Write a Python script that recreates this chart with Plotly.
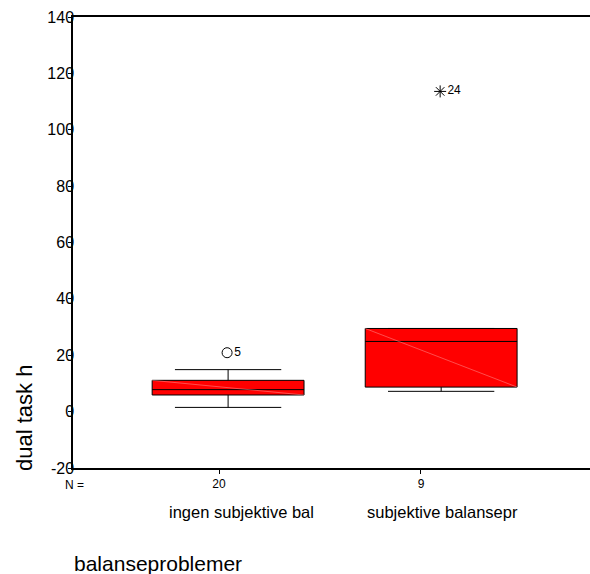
import plotly.graph_objects as go

# ---- data ----
categories = ["ingen subjektive bal", "subjektive balansepr"]
n_counts = ["20", "9"]
q1 = [5.9, 8.7]
median = [7.8, 24.9]
q3 = [11.1, 29.5]
lower_whisker = [1.5, 7.2]
upper_whisker = [14.9, 29.5]
outlier_values = [20.9, 113.6]
outlier_labels = ["5", "24"]
outlier_kind = ["circle", "extreme"]
y_ticks = [-20, 0, 20, 40, 60, 80, 100, 120, 140]
y_tick_text = ["-20", "0", "20", "40", "60", "80", "100", "120", "140"]

FONT = "Arial, Liberation Sans, sans-serif"
tick_pos = [1, 2]
box_pos = [1.045, 2.10]
box_w = 0.752

fig = go.Figure()

for i, cat in enumerate(categories):
    fig.add_trace(go.Box(
        x=[box_pos[i]], q1=[q1[i]], median=[median[i]], q3=[q3[i]],
        lowerfence=[lower_whisker[i]], upperfence=[upper_whisker[i]],
        width=box_w, whiskerwidth=0.7, boxpoints=False,
        fillcolor="#ff0000", line=dict(color="black", width=1),
        name=cat, showlegend=False, hoverinfo="skip",
    ))
    # faint diagonal rendering artefact inside the box
    fig.add_trace(go.Scatter(
        x=[box_pos[i] - box_w / 2, box_pos[i] + box_w / 2],
        y=[q3[i], q1[i]], mode="lines",
        line=dict(color="rgba(255,160,160,0.8)", width=0.6),
        showlegend=False, hoverinfo="skip",
    ))

for i, v in enumerate(outlier_values):
    sym = "circle-open" if outlier_kind[i] == "circle" else "asterisk-open"
    fig.add_trace(go.Scatter(
        x=[box_pos[i] - 0.005], y=[v], mode="markers+text",
        marker=dict(symbol=sym, size=10,
                    color="black", line=dict(color="black", width=1)),
        text=[outlier_labels[i]], textposition="middle right",
        textfont=dict(family=FONT, size=12, color="black"),
        showlegend=False, hoverinfo="skip",
    ))

fig.update_xaxes(
    range=[0.277, 2.837], tickvals=tick_pos, ticktext=n_counts,
    tickfont=dict(family=FONT, size=12, color="black"),
    ticks="outside", ticklen=4, tickcolor="black",
    showline=True, linecolor="black", linewidth=1.5, mirror=True,
    showgrid=False, zeroline=False,
)
fig.update_yaxes(
    range=[-20, 140], tickvals=y_ticks, ticktext=y_tick_text,
    tickfont=dict(family=FONT, size=16, color="black"),
    ticks="outside", ticklen=3, tickcolor="black",
    ticklabelstandoff=-9,
    showline=True, linecolor="black", linewidth=1.5,
    showgrid=False, zeroline=False,
)

ann = [
    dict(text="N =", x=0, xref="paper", xanchor="center", xshift=1,
         y=0, yref="paper", yanchor="middle", yshift=-17,
         font=dict(family=FONT, size=12, color="black"), showarrow=False),
    dict(text="balanseproblemer", x=0, xref="paper", xanchor="left", xshift=-1,
         y=0, yref="paper", yanchor="middle", yshift=-95,
         font=dict(family=FONT, size=21, color="black"), showarrow=False),
    dict(text="dual task h", x=0, xref="paper", xanchor="center", xshift=-49,
         y=0, yref="paper", yanchor="middle", yshift=50, textangle=-90,
         font=dict(family=FONT, size=22, color="black"), showarrow=False),
]
for i, cat in enumerate(categories):
    ann.append(dict(text=cat, x=tick_pos[i], xref="x", xanchor="center", xshift=22,
                    y=0, yref="paper", yanchor="middle", yshift=-44,
                    font=dict(family=FONT, size=16.5, color="black"), showarrow=False))

fig.update_layout(
    width=590, height=574,
    margin=dict(l=73, r=0, t=17, b=106, autoexpand=False),
    paper_bgcolor="white", plot_bgcolor="white",
    annotations=ann, showlegend=False,
)

fig.write_html(
    "out.html",
    config={"displayModeBar": False},
    post_script="document.body.style.margin='0';document.body.style.overflow='hidden';",
)
